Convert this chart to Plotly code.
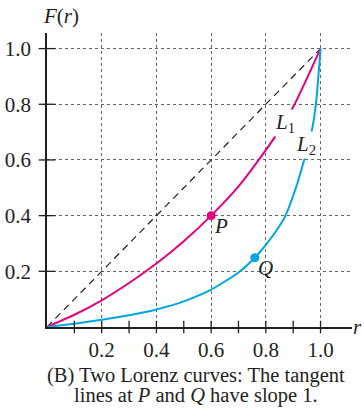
import plotly.graph_objects as go

# Data
l1_r = [0.0, 0.1, 0.2, 0.3, 0.4, 0.5, 0.6, 0.7, 0.77, 0.845, 0.9, 1.0]
l1_F = [0.0, 0.044, 0.096, 0.158, 0.228, 0.308, 0.40, 0.505, 0.595, 0.70, 0.79, 1.0]
l2_r = [0.0, 0.1, 0.2, 0.3, 0.4, 0.5, 0.6, 0.7, 0.76, 0.8, 0.85, 0.872, 0.91, 0.94, 0.967, 0.983, 1.0]
l2_F = [0.0, 0.012, 0.026, 0.042, 0.063, 0.092, 0.134, 0.196, 0.249, 0.295, 0.363, 0.40, 0.50, 0.60, 0.70, 0.80, 1.0]
diag = [0.0, 1.0]
p_point = (0.6, 0.40)
q_point = (0.76, 0.249)
x_ticks = [0.2, 0.4, 0.6, 0.8, 1.0]
x_minor = [0.1, 0.2, 0.3, 0.4, 0.5, 0.6, 0.7, 0.8, 0.9, 1.0]
y_ticks = [0.2, 0.4, 0.6, 0.8, 1.0]
tick_text = ["0.2", "0.4", "0.6", "0.8", "1.0"]

MAG = "#E5007D"
CYAN = "#00A6E2"
INK = "#231F20"
SERIF = "Liberation Serif, Times New Roman, serif"

fig = go.Figure()
fig.add_trace(go.Scatter(x=diag, y=diag, mode="lines",
                         line=dict(color=INK, width=1.2, dash="7px,5px"), hoverinfo="skip"))
fig.add_trace(go.Scatter(x=l1_r, y=l1_F, mode="lines",
                         line=dict(color=MAG, width=2, shape="spline", smoothing=0.6)))
fig.add_trace(go.Scatter(x=l2_r, y=l2_F, mode="lines",
                         line=dict(color=CYAN, width=2, shape="spline", smoothing=0.6)))
fig.add_trace(go.Scatter(x=[p_point[0]], y=[p_point[1]], mode="markers",
                         marker=dict(color=MAG, size=9)))
fig.add_trace(go.Scatter(x=[q_point[0]], y=[q_point[1]], mode="markers",
                         marker=dict(color=CYAN, size=9)))
# crossing tick marks
fig.add_trace(go.Scatter(x=x_minor, y=[0] * len(x_minor), mode="markers", cliponaxis=False,
                         marker=dict(symbol="line-ns", size=9, line=dict(color=INK, width=1.3))))
fig.add_trace(go.Scatter(x=[0] * len(y_ticks), y=y_ticks, mode="markers", cliponaxis=False,
                         marker=dict(symbol="line-ew", size=12, line=dict(color=INK, width=1.3))))

lab_font = dict(family=SERIF, size=21, color=INK)
fig.add_annotation(x=0.637, y=0.361, text="<i>P</i>", showarrow=False, font=lab_font)
fig.add_annotation(x=0.80, y=0.212, text="<i>Q</i>", showarrow=False, font=lab_font)
fig.add_annotation(x=0.87, y=0.732, text="<i>L</i><sub>1</sub>", showarrow=False, font=lab_font,
                   bgcolor="white", borderpad=0)
fig.add_annotation(x=0.948, y=0.655, text="<i>L</i><sub>2</sub>", showarrow=False, font=lab_font,
                   bgcolor="white", borderpad=0)
# axis labels
fig.add_annotation(x=1.0, y=0, xref="paper", yref="y", xanchor="left", yanchor="middle",
                   text="<i>r</i>", showarrow=False, font=lab_font, xshift=-1)
fig.add_annotation(x=0, y=1.0, xref="x", yref="paper", xanchor="left", yanchor="bottom",
                   text="<i>F</i>(<i>r</i>)", showarrow=False, font=lab_font, xshift=-6, yshift=3)
cap_font = dict(family=SERIF, size=20.5, color=INK)
fig.add_annotation(x=0.49, y=-0.165, xref="paper", yref="paper", yanchor="middle",
                   text="(B) Two Lorenz curves: The tangent", showarrow=False, font=cap_font)
fig.add_annotation(x=0.49, y=-0.233, xref="paper", yref="paper", yanchor="middle",
                   text="lines at <i>P</i> and <i>Q</i> have slope 1.", showarrow=False, font=cap_font)

fig.update_layout(
    width=364, height=417,
    margin=dict(l=47, r=12, t=33, b=90),
    plot_bgcolor="white", paper_bgcolor="white",
    showlegend=False,
    xaxis=dict(range=[0, 1.115], tickvals=x_ticks, ticktext=tick_text, automargin=False,
               showgrid=True, gridcolor="#666", griddash="dot", gridwidth=1,
               showline=True, linecolor=INK, linewidth=1.5, zeroline=False,
               ticks="outside", ticklen=3, tickcolor="rgba(0,0,0,0)",
               tickfont=dict(family=SERIF, size=21, color=INK)),
    yaxis=dict(range=[0, 1.056], tickvals=y_ticks, ticktext=tick_text, automargin=False,
               showgrid=True, gridcolor="#666", griddash="dot", gridwidth=1,
               showline=True, linecolor=INK, linewidth=1.5, zeroline=False,
               ticks="outside", ticklen=10, tickcolor="rgba(0,0,0,0)",
               tickfont=dict(family=SERIF, size=21, color=INK)),
)
fig.write_html("out.html", config={"displayModeBar": False},
               post_script="document.body.style.margin='0';document.body.style.padding='0';")
